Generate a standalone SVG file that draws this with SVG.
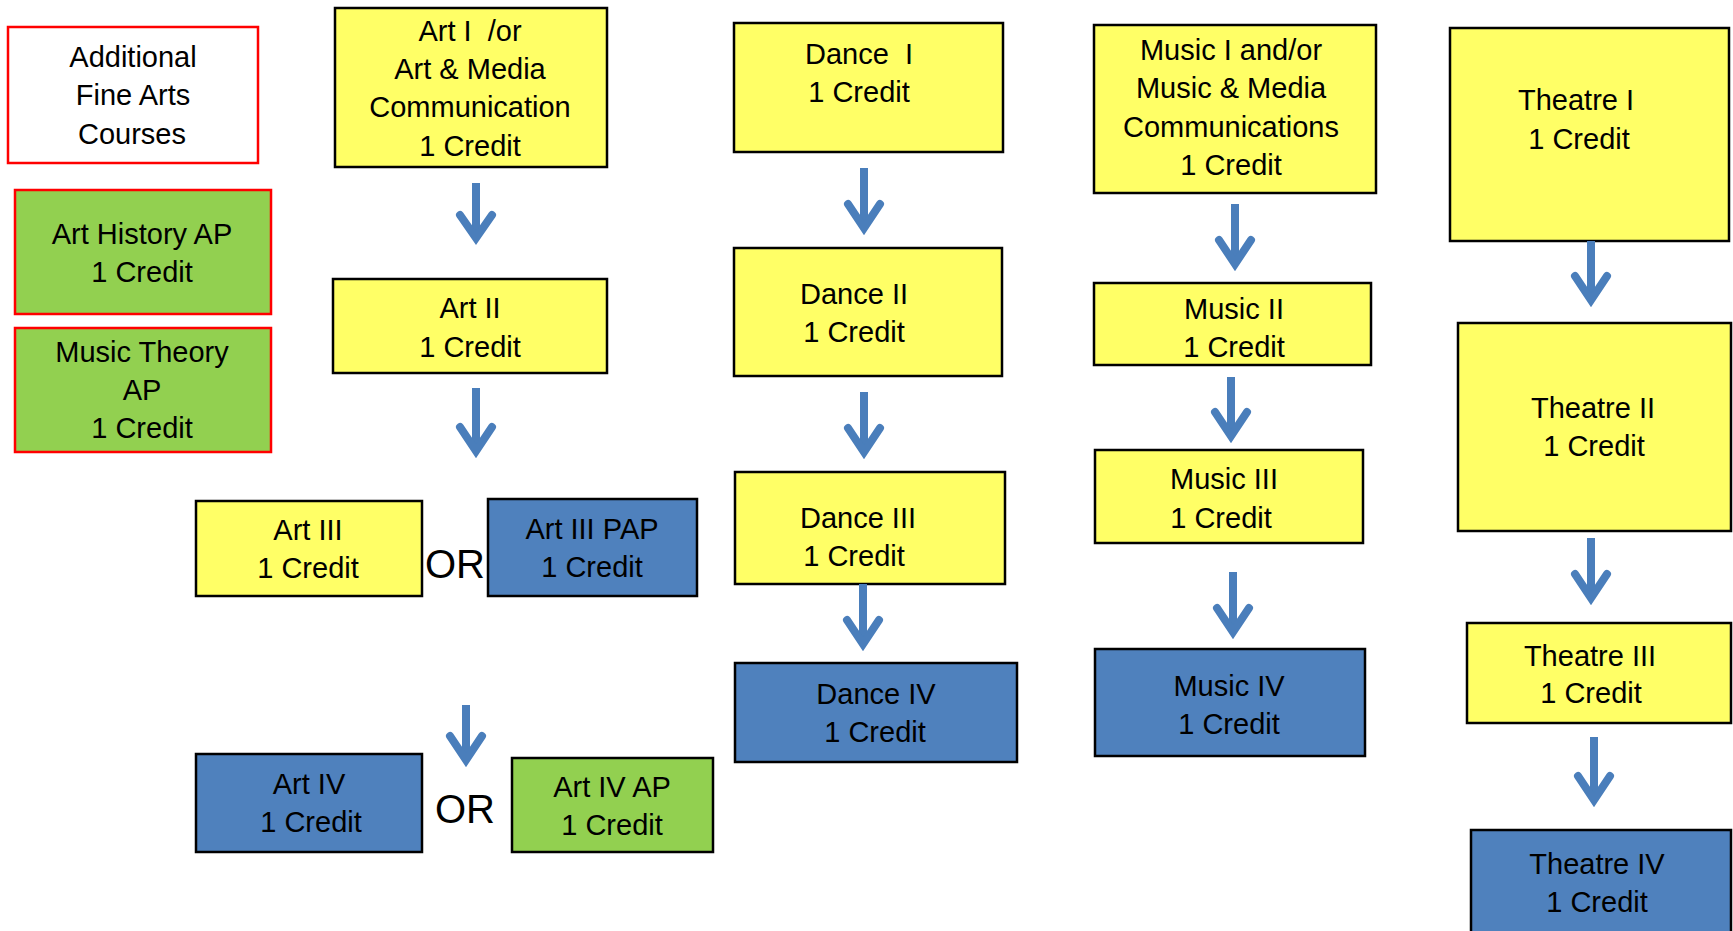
<svg xmlns="http://www.w3.org/2000/svg" width="1733" height="931" viewBox="0 0 1733 931">
<style>
text{font-family:"Liberation Sans",Arial,sans-serif;font-size:29px;fill:#000;text-anchor:middle}
.y{fill:#FFFF66;stroke:#000;stroke-width:2.5}
.b{fill:#4F81BD;stroke:#000;stroke-width:2.5}
.g{fill:#92D050;stroke:#FF0000;stroke-width:2.5}
.w{fill:#FFFFFF;stroke:#FF0000;stroke-width:2.5}
.or{font-size:40px}
.sh{fill:none;stroke:#4A7EBB;stroke-width:8}
.hd{fill:none;stroke:#4A7EBB;stroke-width:8;stroke-linecap:round;stroke-linejoin:miter;stroke-miterlimit:6}
</style>
<rect width="1733" height="931" fill="#FFFFFF"/>
<g id="additional"><rect class="w" x="8" y="27" width="250" height="136"/><text x="133" y="67">Additional</text><text x="133" y="105">Fine Arts</text><text x="132" y="144">Courses</text></g>
<g id="art-history-ap"><rect class="g" x="15" y="190" width="256" height="124"/><text x="142" y="244">Art History AP</text><text x="142" y="282">1 Credit</text></g>
<g id="music-theory-ap"><rect class="g" x="15" y="328" width="256" height="124"/><text x="142" y="362">Music Theory</text><text x="142" y="400">AP</text><text x="142" y="438">1 Credit</text></g>
<g id="art-1"><rect class="y" x="335" y="8" width="272" height="159"/><text x="470" y="41" xml:space="preserve">Art I  /or</text><text x="470" y="79">Art &amp; Media</text><text x="470" y="117">Communication</text><text x="470" y="156">1 Credit</text></g>
<g id="art-2"><rect class="y" x="333" y="279" width="274" height="94"/><text x="470" y="318">Art II</text><text x="470" y="357">1 Credit</text></g>
<g id="art-3"><rect class="y" x="196" y="501" width="226" height="95"/><text x="308" y="540">Art III</text><text x="308" y="578">1 Credit</text></g>
<text x="455" y="578" class="or">OR</text>
<g id="art-3-pap"><rect class="b" x="488" y="499" width="209" height="97"/><text x="592" y="539">Art III PAP</text><text x="592" y="577">1 Credit</text></g>
<g id="art-4"><rect class="b" x="196" y="754" width="226" height="98"/><text x="309" y="794">Art IV</text><text x="311" y="832">1 Credit</text></g>
<text x="465" y="823" class="or">OR</text>
<g id="art-4-ap"><rect class="g" style="stroke:#000" x="512" y="758" width="201" height="94"/><text x="612" y="797">Art IV AP</text><text x="612" y="835">1 Credit</text></g>
<g id="dance-1"><rect class="y" x="734" y="23" width="269" height="129"/><text x="859" y="64" xml:space="preserve">Dance  I</text><text x="859" y="102">1 Credit</text></g>
<g id="dance-2"><rect class="y" x="734" y="248" width="268" height="128"/><text x="854" y="304">Dance II</text><text x="854" y="342">1 Credit</text></g>
<g id="dance-3"><rect class="y" x="735" y="472" width="270" height="112"/><text x="858" y="528">Dance III</text><text x="854" y="566">1 Credit</text></g>
<g id="dance-4"><rect class="b" x="735" y="663" width="282" height="99"/><text x="876" y="704">Dance IV</text><text x="875" y="742">1 Credit</text></g>
<g id="music-1"><rect class="y" x="1094" y="25" width="282" height="168"/><text x="1231" y="60">Music I and/or</text><text x="1231" y="98">Music &amp; Media</text><text x="1231" y="137">Communications</text><text x="1231" y="175">1 Credit</text></g>
<g id="music-2"><rect class="y" x="1094" y="283" width="277" height="82"/><text x="1234" y="319">Music II</text><text x="1234" y="357">1 Credit</text></g>
<g id="music-3"><rect class="y" x="1095" y="450" width="268" height="93"/><text x="1224" y="489">Music III</text><text x="1221" y="528">1 Credit</text></g>
<g id="music-4"><rect class="b" x="1095" y="649" width="270" height="107"/><text x="1229" y="696">Music IV</text><text x="1229" y="734">1 Credit</text></g>
<g id="theatre-1"><rect class="y" x="1450" y="28" width="279" height="213"/><text x="1576" y="110">Theatre I</text><text x="1579" y="149">1 Credit</text></g>
<g id="theatre-2"><rect class="y" x="1458" y="323" width="273" height="208"/><text x="1593" y="418">Theatre II</text><text x="1594" y="456">1 Credit</text></g>
<g id="theatre-3"><rect class="y" x="1467" y="623" width="264" height="100"/><text x="1590" y="666">Theatre III</text><text x="1591" y="703">1 Credit</text></g>
<g id="theatre-4"><rect class="b" x="1471" y="830" width="260" height="120"/><text x="1597" y="874">Theatre IV</text><text x="1597" y="912">1 Credit</text></g>
<g id="connectors">
<path class="sh" d="M476,183V236M476,388V449M466,705V758M864,168V226M864,392V450M863,584V642M1235,204V262M1231,377V434M1233,572V630M1591,241V298M1591,538V596M1594,737V798"/>
<path class="hd" d="M460,215L476,238L492,215M460,427L476,451L492,427M450,736L466,760L482,736M848,204L864,228L880,204M848,428L864,452L880,428M847,620L863,644L879,620M1219,240L1235,264L1251,240M1215,412L1231,436L1247,412M1217,608L1233,632L1249,608M1575,276L1591,300L1607,276M1575,574L1591,598L1607,574M1578,776L1594,800L1610,776"/>
</g>
</svg>
